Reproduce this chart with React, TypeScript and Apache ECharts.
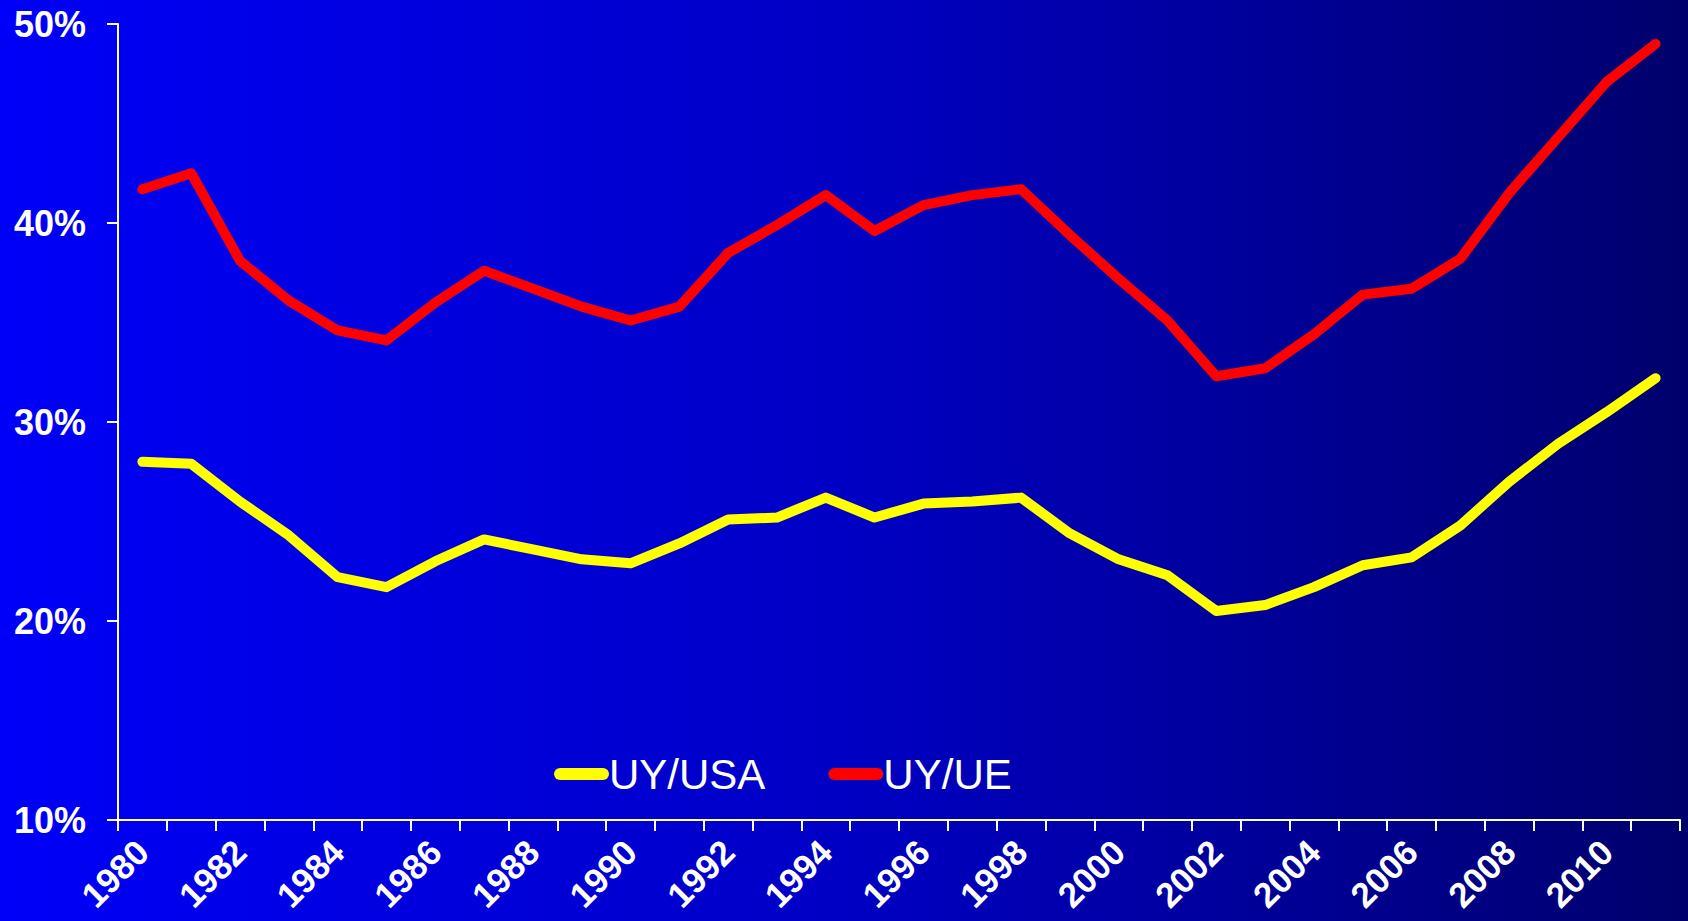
import React, { useEffect, useRef } from "react";
import * as echarts from "echarts";

const years = [
  "1980","1981","1982","1983","1984","1985","1986","1987","1988","1989",
  "1990","1991","1992","1993","1994","1995","1996","1997","1998","1999",
  "2000","2001","2002","2003","2004","2005","2006","2007","2008","2009",
  "2010","2011",
];

const uyUsa = [
  28.0, 27.9, 26.0, 24.3, 22.2, 21.7, 23.0, 24.1, 23.6, 23.1,
  22.9, 23.9, 25.1, 25.2, 26.2, 25.2, 25.9, 26.0, 26.2, 24.4,
  23.1, 22.3, 20.5, 20.8, 21.7, 22.8, 23.2, 24.8, 27.0, 28.9,
  30.5, 32.2,
];

const uyUe = [
  41.7, 42.5, 38.1, 36.1, 34.6, 34.1, 36.0, 37.6, 36.7, 35.8,
  35.1, 35.8, 38.5, 39.9, 41.4, 39.6, 40.9, 41.4, 41.7, 39.4,
  37.2, 35.1, 32.3, 32.7, 34.4, 36.4, 36.7, 38.2, 41.5, 44.3,
  47.1, 49.0,
];

const seriesNames = ["UY/USA", "UY/UE"];

export default function App() {
  const ref = useRef<HTMLDivElement>(null);
  useEffect(() => {
    if (!ref.current) return;
    const chart = echarts.init(ref.current, null, { renderer: "svg" });
    const font = "Arial, 'Liberation Sans', sans-serif";
    const legendIcon =
      "path://M6,0 H49 A6,6 0 0 1 49,12 H6 A6,6 0 0 1 6,0 Z";
    chart.setOption({
      animation: false,
      backgroundColor: new echarts.graphic.LinearGradient(0, 0, 1, 0, [
        { offset: 0, color: "#0000f8" },
        { offset: 0.5, color: "#0000c4" },
        { offset: 1, color: "#00006c" },
      ]),
      grid: { left: 118, right: 8, top: 24, bottom: 101, containLabel: false },
      legend: {
        left: 549,
        top: 745,
        itemWidth: 55,
        itemHeight: 12,
        itemGap: 63,
        icon: legendIcon,
        textStyle: {
          color: "#ffffff",
          fontSize: 42,
          fontFamily: font,
          lineHeight: 48,
          padding: [0, 0, 0, -5],
        },
        data: seriesNames,
      },
      xAxis: {
        type: "category",
        data: years,
        boundaryGap: true,
        axisLine: { lineStyle: { color: "#ffffff", width: 2 } },
        axisTick: {
          show: true,
          interval: 0,
          length: 11,
          lineStyle: { color: "#ffffff", width: 2 },
        },
        axisLabel: {
          interval: 1,
          rotate: 45,
          color: "#ffffff",
          fontSize: 35,
          fontWeight: "bold",
          fontFamily: font,
          margin: 26,
        },
        splitLine: { show: false },
      },
      yAxis: {
        type: "value",
        min: 10,
        max: 50,
        interval: 10,
        axisLine: { show: true, lineStyle: { color: "#ffffff", width: 2 } },
        axisTick: {
          show: true,
          length: 11,
          lineStyle: { color: "#ffffff", width: 2 },
        },
        axisLabel: {
          formatter: "{value}%",
          color: "#ffffff",
          fontSize: 36,
          fontWeight: "bold",
          fontFamily: font,
          margin: 32,
        },
        splitLine: { show: false },
      },
      series: [
        {
          name: seriesNames[0],
          type: "line",
          data: uyUsa,
          showSymbol: false,
          symbol: "none",
          lineStyle: { color: "#ffff00", width: 10, cap: "round", join: "round" },
          itemStyle: { color: "#ffff00" },
        },
        {
          name: seriesNames[1],
          type: "line",
          data: uyUe,
          showSymbol: false,
          symbol: "none",
          lineStyle: { color: "#ff0000", width: 10, cap: "round", join: "round" },
          itemStyle: { color: "#ff0000" },
        },
      ],
    });
    return () => chart.dispose();
  }, []);
  return (
    <div
      ref={ref}
      style={{ position: "fixed", left: 0, top: 0, width: 1688, height: 921 }}
    />
  );
}
